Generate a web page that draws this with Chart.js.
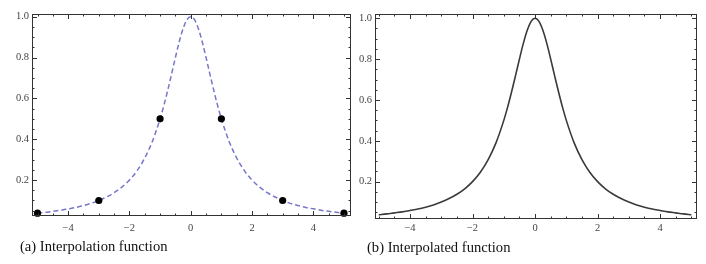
<!DOCTYPE html>
<html>
<head>
<meta charset="utf-8">
<script src="https://cdn.jsdelivr.net/npm/chart.js@4.4.0/dist/chart.umd.min.js"></script>
<style>
  body { margin: 0; background: #fff; width: 706px; height: 264px; position: relative; overflow: hidden; }
  .box { position: absolute; top: 0; height: 240px; }
  .cap { position: absolute; font-family: "Liberation Serif", serif; font-size: 14.6px; color: #111; white-space: nowrap; }
</style>
</head>
<body>
<div class="box" style="left:0;width:360px"><canvas id="chartA"></canvas></div>
<div class="box" style="left:350px;width:356px"><canvas id="chartB"></canvas></div>
<div class="cap" style="left:20px;top:238px">(a) Interpolation function</div>
<div class="cap" style="left:367px;top:239px">(b) Interpolated function</div>
<script>
// curve
const curveX = [-5, -4.75, -4.5, -4.25, -4, -3.75, -3.5, -3.25, -3, -2.75, -2.5, -2.25, -2, -1.75, -1.5, -1.25, -1,
                -0.875, -0.75, -0.625, -0.5, -0.375, -0.25, -0.125,
                0, 0.125, 0.25, 0.375, 0.5, 0.625, 0.75, 0.875,
                1, 1.25, 1.5, 1.75, 2, 2.25, 2.5, 2.75, 3, 3.25, 3.5, 3.75, 4, 4.25, 4.5, 4.75, 5];
const curveY = [0.038, 0.042, 0.047, 0.052, 0.059, 0.066, 0.075, 0.086, 0.100, 0.117, 0.138, 0.165, 0.200, 0.246, 0.308, 0.390, 0.500,
                0.566, 0.640, 0.719, 0.800, 0.877, 0.941, 0.985,
                1.000, 0.985, 0.941, 0.877, 0.800, 0.719, 0.640, 0.566,
                0.500, 0.390, 0.308, 0.246, 0.200, 0.165, 0.138, 0.117, 0.100, 0.086, 0.075, 0.066, 0.059, 0.052, 0.047, 0.042, 0.038];

// interpolation nodes (black dots)
const nodeX = [-5, -3, -1, 1, 3, 5];
const nodeY = [0.038, 0.1, 0.5, 0.5, 0.1, 0.038];

// ticks
const xTicks = [-5, -4.5, -4, -3.5, -3, -2.5, -2, -1.5, -1, -0.5, 0, 0.5, 1, 1.5, 2, 2.5, 3, 3.5, 4, 4.5, 5];
const xLabels = [-4, -2, 0, 2, 4];
const yTicks = [0.05, 0.1, 0.15, 0.2, 0.25, 0.3, 0.35, 0.4, 0.45, 0.5, 0.55, 0.6, 0.65, 0.7, 0.75, 0.8, 0.85, 0.9, 0.95, 1.0];
const yLabels = [0.2, 0.4, 0.6, 0.8, 1.0];

const tickFont = { family: '"Liberation Serif", serif', size: 10.5 };
const tickColor = '#444';

// frame with inward ticks on all four sides, like Mathematica
const frameTicks = {
    id: 'frameTicks',
    afterDraw(chart) {
        const { ctx, chartArea: a, scales: { x, y } } = chart;
        ctx.save();
        ctx.strokeStyle = '#333';
        ctx.lineWidth = 1;
        ctx.strokeRect(a.left + 0.5, a.top + 0.5, a.right - a.left - 1, a.bottom - a.top - 1);
        ctx.beginPath();
        x.ticks.forEach(t => {
            const px = Math.round(x.getPixelForValue(t.value)) + 0.5;
            const len = xLabels.includes(t.value) ? 5 : 2.5;
            ctx.moveTo(px, a.bottom); ctx.lineTo(px, a.bottom - len);
            ctx.moveTo(px, a.top); ctx.lineTo(px, a.top + len);
        });
        y.ticks.forEach(t => {
            const py = Math.round(y.getPixelForValue(t.value)) + 0.5;
            const len = yLabels.includes(t.value) ? 5 : 2.5;
            ctx.moveTo(a.left, py); ctx.lineTo(a.left + len, py);
            ctx.moveTo(a.right, py); ctx.lineTo(a.right - len, py);
        });
        ctx.stroke();
        ctx.restore();
    }
};

function makeOptions(r) {
    return {
        responsive: true,
        maintainAspectRatio: false,
        animation: false,
        layout: { padding: { top: 14, right: r.padRight, left: 0, bottom: 0 } },
        plugins: { legend: { display: false }, tooltip: { enabled: false } },
        scales: {
            x: {
                type: 'linear',
                min: r.xMin, max: r.xMax,
                afterBuildTicks: s => { s.ticks = xTicks.map(v => ({ value: v })); },
                afterFit: s => { s.height = r.xHeight; },
                grid: { display: false, drawTicks: false },
                border: { display: false },
                ticks: {
                    autoSkip: false, maxRotation: 0, padding: r.xPad,
                    font: tickFont, color: tickColor,
                    callback: v => xLabels.includes(v) ? String(v).replace('-', '\u2212') : ''
                }
            },
            y: {
                min: r.yMin, max: r.yMax,
                afterBuildTicks: s => { s.ticks = yTicks.map(v => ({ value: v })); },
                afterFit: s => { s.width = r.yWidth; },
                grid: { display: false, drawTicks: false },
                border: { display: false },
                ticks: {
                    autoSkip: false, padding: 3,
                    font: tickFont, color: tickColor,
                    callback: v => yLabels.includes(v) ? v.toFixed(1) : ''
                }
            }
        }
    };
}

const points = curveX.map((x, i) => ({ x: x, y: curveY[i] }));

new Chart(document.getElementById('chartA'), {
    type: 'line',
    data: {
        datasets: [{
            data: points,
            borderColor: 'rgb(118,118,205)',
            borderWidth: 1.5,
            borderDash: [5, 3],
            pointRadius: 0,
            cubicInterpolationMode: 'monotone',
            order: 1
        }, {
            data: nodeX.map((x, i) => ({ x: x, y: nodeY[i] })),
            showLine: false,
            pointRadius: 3.6,
            pointBackgroundColor: '#000',
            pointBorderWidth: 0,
            clip: false,
            order: 0
        }]
    },
    options: makeOptions({ xMin: -5.18, xMax: 5.23, yMin: 0.024, yMax: 1.013, padRight: 9, yWidth: 32, xHeight: 24, xPad: 6 }),
    plugins: [frameTicks]
});

new Chart(document.getElementById('chartB'), {
    type: 'line',
    data: {
        datasets: [{
            data: points,
            borderColor: '#3a3a3a',
            borderWidth: 1.6,
            pointRadius: 0,
            cubicInterpolationMode: 'monotone'
        }]
    },
    options: makeOptions({ xMin: -5.12, xMax: 5.18, yMin: 0.017, yMax: 1.021, padRight: 9, yWidth: 25, xHeight: 21, xPad: 3 }),
    plugins: [frameTicks]
});
</script>
</body>
</html>
